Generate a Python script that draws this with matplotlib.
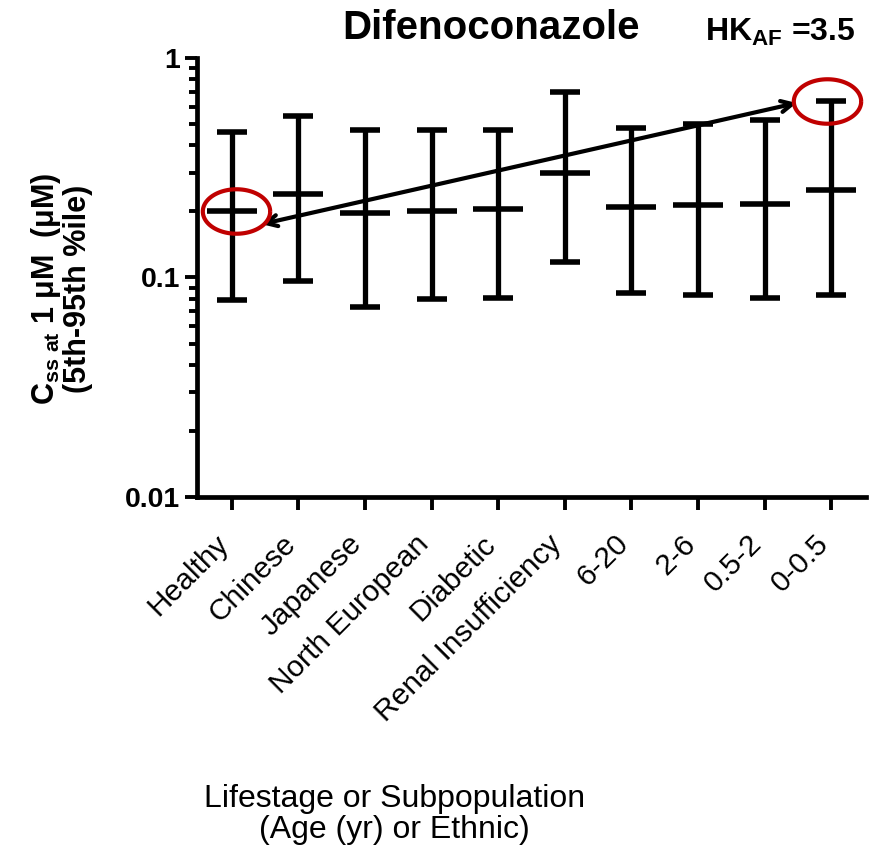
import numpy as np
import matplotlib
matplotlib.use('Agg')
import matplotlib.pyplot as plt
from matplotlib.path import Path
from matplotlib.transforms import ScaledTranslation
from matplotlib.ticker import LogLocator, FixedLocator, FixedFormatter, NullFormatter

plt.rcParams['font.family'] = ['Liberation Sans', 'DejaVu Sans']
plt.rcParams['mathtext.fontset'] = 'custom'
plt.rcParams['mathtext.rm'] = 'Liberation Sans'
plt.rcParams['mathtext.bf'] = 'Liberation Sans:bold'

# data
groups = ['Healthy', 'Chinese', 'Japanese', 'North European', 'Diabetic',
          'Renal Insufficiency', '6-20', '2-6', '0.5-2', '0-0.5']
median = [0.20, 0.24, 0.197, 0.20, 0.205, 0.30, 0.21, 0.214, 0.216, 0.25]
p95 = [0.46, 0.545, 0.47, 0.47, 0.47, 0.70, 0.48, 0.50, 0.52, 0.64]
p5 = [0.079, 0.096, 0.073, 0.08, 0.081, 0.118, 0.085, 0.083, 0.081, 0.083]

arrow_start = (0.45, 0.175)
arrow_end = (8.48, 0.624)
hk_af = 3.5

fig = plt.figure(figsize=(8.81, 8.52), dpi=100)
ax = fig.add_axes([0.2236, 0.4167, 0.7594, 0.5152])

x = np.arange(len(groups))
median = np.array(median)
yerr = [median - np.array(p5), np.array(p95) - median]

ax.errorbar(x, median, yerr=yerr, fmt='_', color='black', ecolor='black',
            markersize=36, markeredgewidth=4, elinewidth=3.8,
            capsize=10.5, capthick=4, zorder=3)

ax.set_yscale('log')
ax.set_ylim(0.01, 1)
ax.set_xlim(-0.52, 9.52)

ax.yaxis.set_major_locator(FixedLocator([0.01, 0.1, 1]))
ax.yaxis.set_major_formatter(FixedFormatter(['0.01', '0.1', '1']))
ax.yaxis.set_minor_locator(LogLocator(base=10, subs=np.arange(2, 10)))
ax.yaxis.set_minor_formatter(NullFormatter())

for s in ['top', 'right']:
    ax.spines[s].set_visible(False)
for s in ['left', 'bottom']:
    ax.spines[s].set_linewidth(3.4)

ax.tick_params(axis='y', which='major', length=9, width=2.8, labelsize=20.5, pad=3)
ax.tick_params(axis='y', which='minor', length=5.5, width=2.8)
ax.tick_params(axis='x', length=9, width=2.8, pad=8)
for lab in ax.get_yticklabels():
    lab.set_fontweight('bold')

ax.set_xticks(x)
ax.set_xticklabels(groups, rotation=45, ha='right', rotation_mode='anchor',
                   fontsize=21.5)
# nudge the rotated labels down-left (after tick_params so it is kept)
shift = ScaledTranslation(-0.17, -0.09, fig.dpi_scale_trans)
for lab in ax.get_xticklabels():
    lab.set_transform(lab.get_transform() + shift)

# double-headed arrow between circled values
ax.annotate('', xy=arrow_end, xytext=arrow_start,
            arrowprops=dict(arrowstyle='<->,head_length=0.8,head_width=0.4',
                            color='black', lw=3, shrinkA=0, shrinkB=0))

# red ellipses
t = np.linspace(0, 2 * np.pi, 100)
ell = Path(np.column_stack([np.cos(t), 0.66 * np.sin(t)]))
ax.plot([0.07, 8.93], [median[0], p95[-1]], linestyle='none', marker=ell,
        markersize=48.5, markerfacecolor='none', markeredgecolor='#c00000',
        markeredgewidth=3, zorder=4, clip_on=False)

ax.set_ylabel(r'$\mathbf{C}_{\mathbf{ss\ at}}$ 1 μM  (μM)' + '\n(5th-95th %ile)',
              fontsize=22, fontweight='bold', linespacing=1.0)
ax.yaxis.set_label_coords(-0.155, 0.475)

fig.text(0.557, 0.967, 'Difenoconazole', fontsize=29, fontweight='bold',
         ha='center', va='center')
fig.text(0.886, 0.962, r'HK$_{\mathbf{AF}}$ =' + f'{hk_af}', fontsize=23,
         fontweight='bold', ha='center', va='center')

fig.text(0.448, 0.044, 'Lifestage or Subpopulation\n(Age (yr) or Ethnic)',
         fontsize=23, ha='center', va='center', linespacing=1.05)

fig.savefig('out.png', dpi=100)
